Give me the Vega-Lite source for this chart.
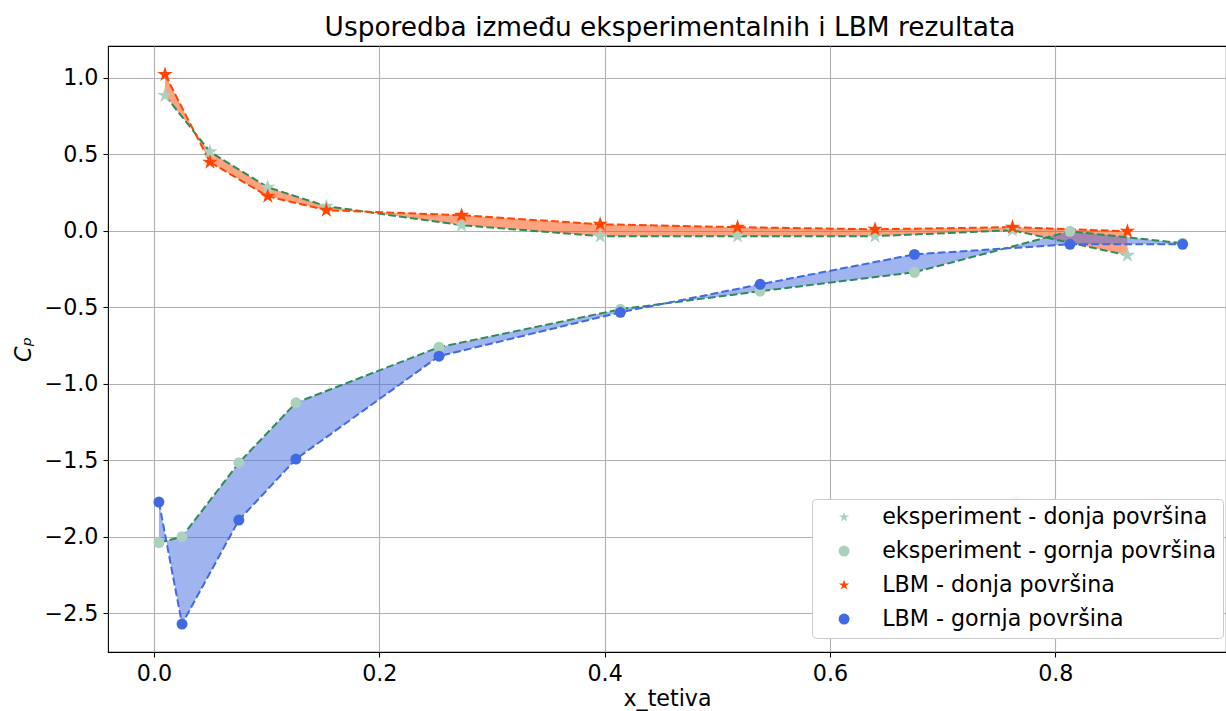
{
  "$schema": "https://vega.github.io/schema/vega-lite/v6.json",
  "width": 1118,
  "height": 606,
  "autosize": {"type": "none"},
  "padding": {"left": 108, "top": 46, "right": 0, "bottom": 59},
  "background": "white",
  "title": {"text": "Usporedba između eksperimentalnih i LBM rezultata", "fontSize": 26.4, "font": "DejaVu Sans", "fontWeight": "normal", "color": "black", "anchor": "middle", "offset": 5, "dx": 3},
  "config": {
    "view": {"stroke": "black", "strokeWidth": 1.1},
    "axis": {"domain": false, "tickColor": "black", "tickWidth": 1.1, "tickSize": 5, "labelFontSize": 22.2, "labelFont": "DejaVu Sans", "labelColor": "black", "titleFontSize": 22.2, "titleFont": "DejaVu Sans", "titleFontWeight": "normal", "titleColor": "black", "gridColor": "#b0b0b0", "gridWidth": 1.1, "gridOpacity": 1, "labelPadding": 5},
    "legend": {"padding": 7, "symbolOffset": 14, "labelOffset": 27, "labelFontSize": 22.2, "labelFont": "DejaVu Sans", "labelColor": "black", "rowPadding": 11, "fillColor": "white", "strokeColor": "#cccccc", "cornerRadius": 4, "symbolSize": 120, "labelLimit": 600}
  },
  "datasets": {
    "tocke": [
      {"x": 0.0098, "y": 0.886, "pov": "donja", "serija": "eksperiment - donja površina"},
      {"x": 0.0497, "y": 0.517, "pov": "donja", "serija": "eksperiment - donja površina"},
      {"x": 0.101, "y": 0.285, "pov": "donja", "serija": "eksperiment - donja površina"},
      {"x": 0.153, "y": 0.161, "pov": "donja", "serija": "eksperiment - donja površina"},
      {"x": 0.273, "y": 0.037, "pov": "donja", "serija": "eksperiment - donja površina"},
      {"x": 0.396, "y": -0.035, "pov": "donja", "serija": "eksperiment - donja površina"},
      {"x": 0.518, "y": -0.035, "pov": "donja", "serija": "eksperiment - donja površina"},
      {"x": 0.640, "y": -0.035, "pov": "donja", "serija": "eksperiment - donja površina"},
      {"x": 0.762, "y": 0.004, "pov": "donja", "serija": "eksperiment - donja površina"},
      {"x": 0.864, "y": -0.160, "pov": "donja", "serija": "eksperiment - donja površina"},
      {"x": 0.0044, "y": -2.040, "pov": "gornja", "serija": "eksperiment - gornja površina"},
      {"x": 0.0249, "y": -2.001, "pov": "gornja", "serija": "eksperiment - gornja površina"},
      {"x": 0.0754, "y": -1.517, "pov": "gornja", "serija": "eksperiment - gornja površina"},
      {"x": 0.126, "y": -1.125, "pov": "gornja", "serija": "eksperiment - gornja površina"},
      {"x": 0.253, "y": -0.761, "pov": "gornja", "serija": "eksperiment - gornja površina"},
      {"x": 0.414, "y": -0.513, "pov": "gornja", "serija": "eksperiment - gornja površina"},
      {"x": 0.538, "y": -0.395, "pov": "gornja", "serija": "eksperiment - gornja površina"},
      {"x": 0.675, "y": -0.271, "pov": "gornja", "serija": "eksperiment - gornja površina"},
      {"x": 0.813, "y": -0.003, "pov": "gornja", "serija": "eksperiment - gornja površina"},
      {"x": 0.913, "y": -0.081, "pov": "gornja", "serija": "eksperiment - gornja površina"},
      {"x": 0.0098, "y": 1.023, "pov": "donja", "serija": "LBM - donja površina"},
      {"x": 0.0497, "y": 0.449, "pov": "donja", "serija": "LBM - donja površina"},
      {"x": 0.101, "y": 0.226, "pov": "donja", "serija": "LBM - donja površina"},
      {"x": 0.153, "y": 0.135, "pov": "donja", "serija": "LBM - donja površina"},
      {"x": 0.273, "y": 0.102, "pov": "donja", "serija": "LBM - donja površina"},
      {"x": 0.396, "y": 0.043, "pov": "donja", "serija": "LBM - donja površina"},
      {"x": 0.518, "y": 0.024, "pov": "donja", "serija": "LBM - donja površina"},
      {"x": 0.640, "y": 0.010, "pov": "donja", "serija": "LBM - donja površina"},
      {"x": 0.762, "y": 0.024, "pov": "donja", "serija": "LBM - donja površina"},
      {"x": 0.864, "y": -0.003, "pov": "donja", "serija": "LBM - donja površina"},
      {"x": 0.0044, "y": -1.774, "pov": "gornja", "serija": "LBM - gornja površina"},
      {"x": 0.0249, "y": -2.572, "pov": "gornja", "serija": "LBM - gornja površina"},
      {"x": 0.0754, "y": -1.892, "pov": "gornja", "serija": "LBM - gornja površina"},
      {"x": 0.126, "y": -1.493, "pov": "gornja", "serija": "LBM - gornja površina"},
      {"x": 0.253, "y": -0.820, "pov": "gornja", "serija": "LBM - gornja površina"},
      {"x": 0.414, "y": -0.533, "pov": "gornja", "serija": "LBM - gornja površina"},
      {"x": 0.538, "y": -0.350, "pov": "gornja", "serija": "LBM - gornja površina"},
      {"x": 0.675, "y": -0.154, "pov": "gornja", "serija": "LBM - gornja površina"},
      {"x": 0.813, "y": -0.088, "pov": "gornja", "serija": "LBM - gornja površina"},
      {"x": 0.913, "y": -0.088, "pov": "gornja", "serija": "LBM - gornja površina"}
    ],
    "pojasi": [
      {"x": 0.0098, "pov": "donja", "eksp": 0.886, "lbm": 1.023},
      {"x": 0.0497, "pov": "donja", "eksp": 0.517, "lbm": 0.449},
      {"x": 0.101, "pov": "donja", "eksp": 0.285, "lbm": 0.226},
      {"x": 0.153, "pov": "donja", "eksp": 0.161, "lbm": 0.135},
      {"x": 0.273, "pov": "donja", "eksp": 0.037, "lbm": 0.102},
      {"x": 0.396, "pov": "donja", "eksp": -0.035, "lbm": 0.043},
      {"x": 0.518, "pov": "donja", "eksp": -0.035, "lbm": 0.024},
      {"x": 0.640, "pov": "donja", "eksp": -0.035, "lbm": 0.010},
      {"x": 0.762, "pov": "donja", "eksp": 0.004, "lbm": 0.024},
      {"x": 0.864, "pov": "donja", "eksp": -0.160, "lbm": -0.003},
      {"x": 0.0044, "pov": "gornja", "eksp": -2.040, "lbm": -1.774},
      {"x": 0.0249, "pov": "gornja", "eksp": -2.001, "lbm": -2.572},
      {"x": 0.0754, "pov": "gornja", "eksp": -1.517, "lbm": -1.892},
      {"x": 0.126, "pov": "gornja", "eksp": -1.125, "lbm": -1.493},
      {"x": 0.253, "pov": "gornja", "eksp": -0.761, "lbm": -0.820},
      {"x": 0.414, "pov": "gornja", "eksp": -0.513, "lbm": -0.533},
      {"x": 0.538, "pov": "gornja", "eksp": -0.395, "lbm": -0.350},
      {"x": 0.675, "pov": "gornja", "eksp": -0.271, "lbm": -0.154},
      {"x": 0.813, "pov": "gornja", "eksp": -0.003, "lbm": -0.088},
      {"x": 0.913, "pov": "gornja", "eksp": -0.081, "lbm": -0.088}
    ]
  },
  "layer": [
    {
      "data": {"name": "pojasi"},
      "transform": [{"filter": "datum.pov == 'donja'"}],
      "mark": {"type": "area", "color": "orangered", "opacity": 0.5},
      "encoding": {
        "x": {"field": "x", "type": "quantitative", "scale": {"domain": [-0.0408, 0.9515], "nice": false, "zero": false}, "axis": {"values": [0, 0.2, 0.4, 0.6, 0.8], "format": ".1f", "grid": true, "title": "x_tetiva", "titlePadding": 3}},
        "y": {"field": "eksp", "type": "quantitative", "scale": {"domain": [-2.755, 1.209], "nice": false, "zero": false}, "axis": {"values": [-2.5, -2.0, -1.5, -1.0, -0.5, 0.0, 0.5, 1.0], "format": ".1f", "grid": true, "title": "Cₚ", "titleFontStyle": "italic", "titlePadding": 9}},
        "y2": {"field": "lbm"}
      }
    },
    {
      "data": {"name": "pojasi"},
      "transform": [{"filter": "datum.pov == 'gornja'"}],
      "mark": {"type": "area", "color": "royalblue", "opacity": 0.5},
      "encoding": {
        "x": {"field": "x", "type": "quantitative"},
        "y": {"field": "eksp", "type": "quantitative"},
        "y2": {"field": "lbm"}
      }
    },
    {
      "data": {"name": "tocke"},
      "transform": [{"filter": "datum.serija == 'eksperiment - donja površina'"}],
      "mark": {"type": "line", "color": "seagreen", "strokeWidth": 2, "strokeDash": [7.7, 3.3]},
      "encoding": {"x": {"field": "x", "type": "quantitative"}, "y": {"field": "y", "type": "quantitative"}}
    },
    {
      "data": {"name": "tocke"},
      "transform": [{"filter": "datum.serija == 'eksperiment - gornja površina'"}],
      "mark": {"type": "line", "color": "seagreen", "strokeWidth": 2, "strokeDash": [7.7, 3.3]},
      "encoding": {"x": {"field": "x", "type": "quantitative"}, "y": {"field": "y", "type": "quantitative"}}
    },
    {
      "data": {"name": "tocke"},
      "transform": [{"filter": "datum.serija == 'LBM - donja površina'"}],
      "mark": {"type": "line", "color": "orangered", "strokeWidth": 2, "strokeDash": [7.7, 3.3]},
      "encoding": {"x": {"field": "x", "type": "quantitative"}, "y": {"field": "y", "type": "quantitative"}}
    },
    {
      "data": {"name": "tocke"},
      "transform": [{"filter": "datum.serija == 'LBM - gornja površina'"}],
      "mark": {"type": "line", "color": "royalblue", "strokeWidth": 2, "strokeDash": [7.7, 3.3]},
      "encoding": {"x": {"field": "x", "type": "quantitative"}, "y": {"field": "y", "type": "quantitative"}}
    },
    {
      "data": {"name": "tocke"},
      "transform": [{"filter": "datum.pov == 'donja'"}],
      "mark": {"type": "point", "filled": true, "size": 260, "opacity": 1},
      "encoding": {
        "x": {"field": "x", "type": "quantitative"},
        "y": {"field": "y", "type": "quantitative"},
        "color": {"field": "serija", "type": "nominal", "scale": {"domain": ["eksperiment - donja površina", "eksperiment - gornja površina", "LBM - donja površina", "LBM - gornja površina"], "range": ["#abd1bc", "#abd1bc", "orangered", "royalblue"]}, "legend": {"title": null, "orient": "none", "legendX": 704, "legendY": 453}},
        "shape": {"field": "serija", "type": "nominal", "scale": {"domain": ["eksperiment - donja površina", "eksperiment - gornja površina", "LBM - donja površina", "LBM - gornja površina"], "range": ["M0,-1L0.2245,-0.309L0.951,-0.309L0.3633,0.118L0.588,0.809L0,0.382L-0.588,0.809L-0.3633,0.118L-0.951,-0.309L-0.2245,-0.309Z", "circle", "M0,-1L0.2245,-0.309L0.951,-0.309L0.3633,0.118L0.588,0.809L0,0.382L-0.588,0.809L-0.3633,0.118L-0.951,-0.309L-0.2245,-0.309Z", "circle"]}, "legend": {"title": null, "orient": "none", "legendX": 704, "legendY": 453}}
      }
    },
    {
      "data": {"name": "tocke"},
      "transform": [{"filter": "datum.pov == 'gornja'"}],
      "mark": {"type": "point", "filled": true, "size": 120, "opacity": 1},
      "encoding": {
        "x": {"field": "x", "type": "quantitative"},
        "y": {"field": "y", "type": "quantitative"},
        "color": {"field": "serija", "type": "nominal"},
        "shape": {"field": "serija", "type": "nominal"}
      }
    }
  ]
}
